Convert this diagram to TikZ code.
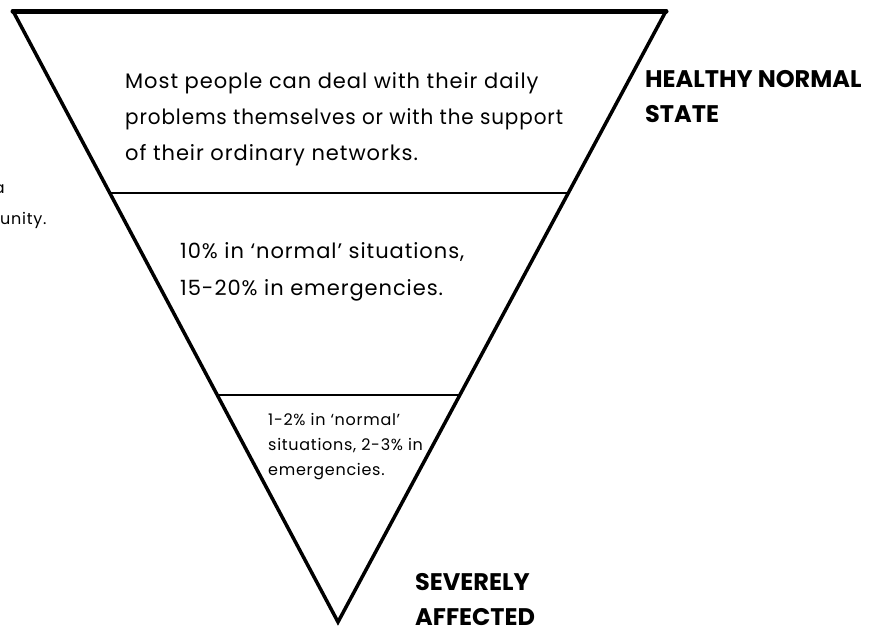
\documentclass[tikz,border=0pt]{standalone}
\usepackage{fontspec}
\setmainfont{Poppins}
\newfontfamily\widefont[LetterSpace=4.5]{Poppins}
\usetikzlibrary{calc}
\begin{document}
\begin{tikzpicture}[x=1pt,y=-1pt,
  txt/.style={inner sep=0pt, anchor=base west, font=\widefont\fontsize{21}{24}\selectfont},
  smalltxt/.style={inner sep=0pt, anchor=base west, font=\widefont\fontsize{16}{18}\selectfont},
  lbl/.style={inner sep=0pt, anchor=base west, font=\fontsize{24}{28}\selectfont\bfseries},
  side/.style={line width=3.5pt, line join=miter, line cap=round},
  divider/.style={line width=2pt}]
\useasboundingbox (0,0) rectangle (871,633);
\coordinate (tl) at (13,11);
\coordinate (tr) at (666,11);
\coordinate (apex) at (338,622);
\draw[side] (tl) -- (apex) -- (tr);
\draw[line width=5pt, line cap=round] (tl) -- (tr);
\coordinate (d1l) at ($(tl)!0.298!(apex)$);
\coordinate (d1r) at ($(tr)!0.298!(apex)$);
\coordinate (d2l) at ($(tl)!0.628!(apex)$);
\coordinate (d2r) at ($(tr)!0.628!(apex)$);
\draw[divider] (d1l) -- (d1r);
\draw[divider] (d2l) -- (d2r);
% top section
\node[txt] (t1) at (125,88) {Most people can deal with their daily};
\node[txt] (t2) at (125,124) {\scalebox{0.95}[1]{problems themselves or with the support}};
\node[txt] (t3) at (125,160) {of their ordinary networks.};
% middle section
\node[txt] (m1) at (180,258) {10\% in ‘normal’ situations,};
\node[txt] (m2) at (180,295) {15-20\% in emergencies.};
% bottom section
\node[smalltxt] (b1) at (268,425) {1-2\% in ‘normal’};
\node[smalltxt] (b2) at (268,450) {situations, 2-3\% in};
\node[smalltxt] (b3) at (268,475) {emergencies.};
% labels
\node[lbl] (h1) at (645,87) {HEALTHY NORMAL};
\node[lbl] (h2) at (645,122) {STATE};
\node[lbl] (s1) at (415,590) {SEVERELY};
\node[lbl] (s2) at (415,625) {AFFECTED};
% cut-off text at left
\node[smalltxt, anchor=base east] (l1) at (5,193) {a};
\node[smalltxt] (l2) at (0,224) {unity.};
\end{tikzpicture}
\end{document}
